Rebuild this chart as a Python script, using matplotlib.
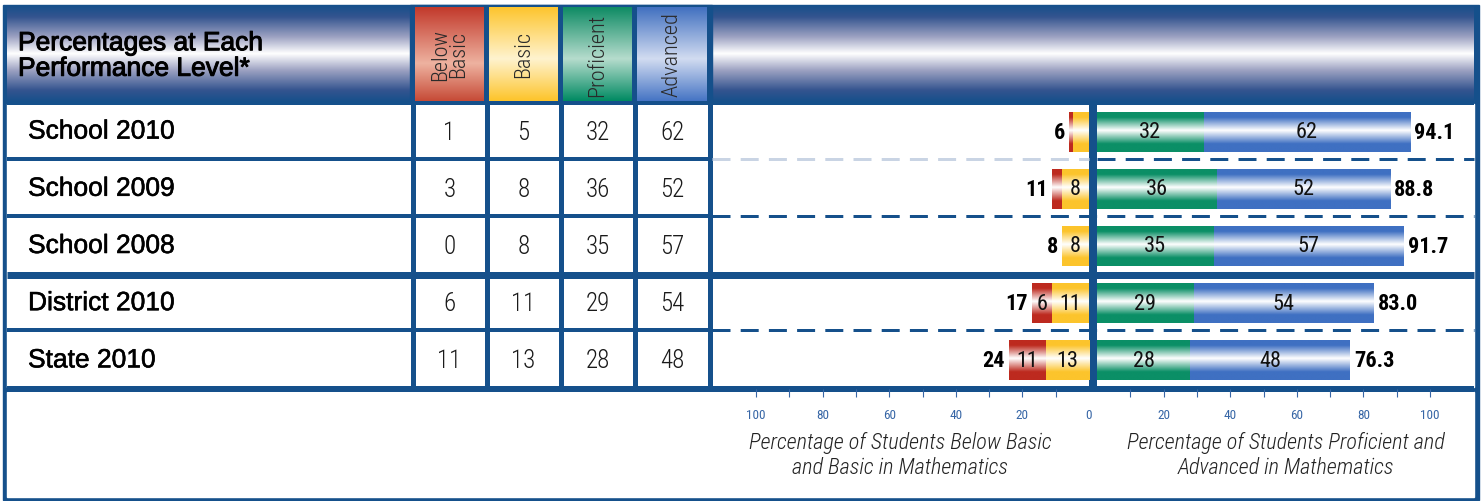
import numpy as np
import matplotlib
matplotlib.use('Agg')
import matplotlib.pyplot as plt
import matplotlib.patheffects as pe
from matplotlib.colors import LinearSegmentedColormap
from matplotlib.patches import Rectangle
from matplotlib import font_manager

groups = ['School 2010', 'School 2009', 'School 2008', 'District 2010', 'State 2010']
levels = ['Below\nBasic', 'Basic', 'Proficient', 'Advanced']
below_basic = [1, 3, 0, 6, 11]
basic = [5, 8, 8, 11, 13]
proficient = [32, 36, 35, 29, 28]
advanced = [62, 52, 57, 54, 48]
prof_adv_total = [94.1, 88.8, 91.7, 83.0, 76.3]
ticks_major = [20, 40, 60, 80, 100]
ticks_minor = [10, 30, 50, 70, 90]

NAVY = '#15508b'
RED = '#bd2a1f'
YELLOW = '#fcc42c'
GREEN = '#0b8f66'
BLUE = '#3f70c2'
TICK = '#3766a6'

names = {f.name for f in font_manager.fontManager.ttflist}
narrow = next((n for n in ['Roboto Condensed', 'Liberation Sans Narrow', 'DejaVu Sans']
               if n in names), 'DejaVu Sans')
plain = 'Liberation Sans'
heavy = [pe.withStroke(linewidth=0.7, foreground='black')]

W, H = 1482, 502
fig = plt.figure(figsize=(W / 100, H / 100), dpi=100)
bg = fig.add_axes([0, 0, 1, 1])
bg.set_xlim(0, W)
bg.set_ylim(H, 0)
bg.axis('off')


def cmap_of(*stops):
    return LinearSegmentedColormap.from_list('g', list(stops))


def vgrad(ax, x0, x1, y0, y1, cmap, z=1):
    g = np.linspace(0, 1, 256).reshape(-1, 1)
    return ax.imshow(g, extent=(x0, x1, y1, y0), cmap=cmap, aspect='auto',
                     interpolation='bilinear', zorder=z)


def px(w):
    # pixel width -> points
    return w * 0.72


# frame and table skeleton
bg.add_patch(Rectangle((3, 6), 1476, 495, color=NAVY, zorder=0))
bg.add_patch(Rectangle((7, 105), 1467, 283, color='white', zorder=0.5))
bg.add_patch(Rectangle((7, 393), 1467, 105, color='white', zorder=0.5))

head_cmap = cmap_of((0, NAVY), (0.12, '#34548f'), (0.33, '#9ea3c3'), (0.5, 'white'),
                    (0.67, '#9ea3c3'), (0.88, '#34548f'), (1, NAVY))
vgrad(bg, 7, 1474, 6, 103, head_cmap, z=0.6)
bg.add_patch(Rectangle((410, 6), 302, 98, color=NAVY, zorder=0.7))

cell_x = [(415, 484), (489, 558), (563, 632), (637, 707)]
cell_cmaps = [
    cmap_of((0, '#c2392b'), (0.6, '#eeb2a0'), (1, '#c64a36')),
    cmap_of((0, '#fdc52d'), (0.55, '#fff3cf'), (1, '#fdc42a')),
    cmap_of((0, '#0e8b64'), (0.55, '#b6dccd'), (1, '#008a62')),
    cmap_of((0, '#4170c0'), (0.55, '#d2dcf1'), (1, '#4574c4')),
]
for (x0, x1), cm, lab in zip(cell_x, cell_cmaps, levels):
    vgrad(bg, x0, x1, 8, 102, cm, z=0.8)
    bg.text((x0 + x1) / 2, 55, lab, rotation=90, ha='center', va='center',
            family=narrow, fontweight='light', fontsize=16, color='#2a2a2a',
            linespacing=0.8, zorder=3)

bg.text(18, 57, 'Percentages at Each\nPerformance Level*', ha='left', va='center',
        family=plain, fontsize=19, color='black', linespacing=1.08, zorder=3,
        path_effects=heavy)

# grid lines
for y in [160, 217, 331]:
    bg.plot([7, 712], [y, y], color=NAVY, lw=px(4), solid_capstyle='butt', zorder=1)
for y, w in [(104, 4), (275.5, 7), (390, 6)]:
    bg.plot([7, 1474], [y, y], color=NAVY, lw=px(w), solid_capstyle='butt', zorder=1)
for x in [412.5, 486.5, 560.5, 634.5, 709.5]:
    bg.plot([x, x], [104, 390], color=NAVY, lw=px(5), solid_capstyle='butt', zorder=1)
bg.plot([1093, 1093], [104, 390], color=NAVY, lw=px(8), solid_capstyle='butt', zorder=1)

dash = (0, (6, 3.4))
bg.plot([712, 1089], [160, 160], color='#c9d4e4', lw=px(3), ls=dash, zorder=1)
bg.plot([1097, 1474], [160, 160], color=NAVY, lw=px(3), ls=dash, zorder=1)
for y in [217, 331]:
    bg.plot([712, 1474], [y, y], color=NAVY, lw=px(3), ls=dash, zorder=1)

# table text
row_top, row_h = 104, 57.2
col_cx = [(x0 + x1) / 2 for x0, x1 in cell_x]
for i, g in enumerate(groups):
    yc = row_top + (i + 0.5) * row_h
    bg.text(28, yc, g, ha='left', va='center', family=plain, fontsize=19,
            color='black', zorder=3, path_effects=[pe.withStroke(linewidth=0.4, foreground='black')])
    for cx, v in zip(col_cx, [below_basic[i], basic[i], proficient[i], advanced[i]]):
        bg.text(cx, yc, str(v), ha='center', va='center', family=narrow,
                fontweight='light', fontsize=18, color='#1a1a1a', zorder=3)

# bar axes
top, bot = 104, 390
scale = 3.33
axL = fig.add_axes([712 / W, 1 - bot / H, (1089 - 712) / W, (bot - top) / H])
axR = fig.add_axes([1097 / W, 1 - bot / H, (1474 - 1097) / W, (bot - top) / H])
y = np.arange(len(groups))


def grad_barh(ax, w, left, color):
    bars = ax.barh(y, w, left=left, height=0.7, color=color, linewidth=0, zorder=2)
    cm = cmap_of((0, color), (0.15, color), (0.47, 'white'), (0.8, color), (1, color))
    for b in bars:
        x0, y0 = b.get_xy()
        bw, bh = b.get_width(), b.get_height()
        if bw == 0:
            continue
        im = ax.imshow(np.linspace(0, 1, 200).reshape(-1, 1),
                       extent=(x0, x0 + bw, y0 + bh, y0), cmap=cm, aspect='auto',
                       interpolation='bilinear', zorder=2.5)
        im.set_clip_path(b)
    return bars


b_basic = grad_barh(axL, basic, 0, YELLOW)
b_bb = grad_barh(axL, below_basic, basic, RED)
b_prof = grad_barh(axR, proficient, 0, GREEN)
b_adv = grad_barh(axR, advanced, proficient, BLUE)

lab_kw = dict(label_type='center', fontsize=16, family=narrow, fontweight='normal',
              color='#111111', zorder=4)
axL.bar_label(b_basic, labels=[str(v) if v >= 6 else '' for v in basic], **lab_kw)
axL.bar_label(b_bb, labels=[str(v) if v >= 6 else '' for v in below_basic], **lab_kw)
axR.bar_label(b_prof, labels=[str(v) for v in proficient], **lab_kw)
axR.bar_label(b_adv, labels=[str(v) for v in advanced], **lab_kw)

for i in range(len(groups)):
    tot = below_basic[i] + basic[i]
    axL.annotate(str(tot), (tot, i), xytext=(-3, 0), textcoords='offset points',
                 ha='right', va='center', family=narrow, fontsize=16,
                 fontweight='bold', color='black', zorder=4)
    axR.annotate(f'{prof_adv_total[i]:.1f}', (proficient[i] + advanced[i], i),
                 xytext=(3, 0), textcoords='offset points', ha='left', va='center',
                 family=narrow, fontsize=16, fontweight='bold', color='black', zorder=4)

axL.set_xlim((1089 - 712) / scale, 0)
axR.set_xlim(0, (1474 - 1097) / scale)
axL.set_xticks([0] + ticks_major)
axR.set_xticks(ticks_major)
axL.xaxis.get_major_ticks()[0].tick1line.set_visible(False)
for ax in (axL, axR):
    ax.set_ylim(4.5, -0.5)
    ax.patch.set_alpha(0)
    for s in ax.spines.values():
        s.set_visible(False)
    ax.set_yticks([])
    ax.set_xticks(ticks_minor, minor=True)
    ax.tick_params(axis='x', which='both', direction='out', length=6, width=0.8,
                   color=TICK, labelcolor=TICK, labelsize=9.5, pad=8)
    for t in ax.get_xticklabels():
        t.set_family(narrow)

xl_kw = dict(family=narrow, fontstyle='italic', fontweight='light', fontsize=16,
             color='#222222', labelpad=7, linespacing=1.15)
axL.set_xlabel('Percentage of Students Below Basic\nand Basic in Mathematics', **xl_kw)
axR.set_xlabel('Percentage of Students Proficient and\nAdvanced in Mathematics', **xl_kw)

fig.savefig('out.png', dpi=100)
